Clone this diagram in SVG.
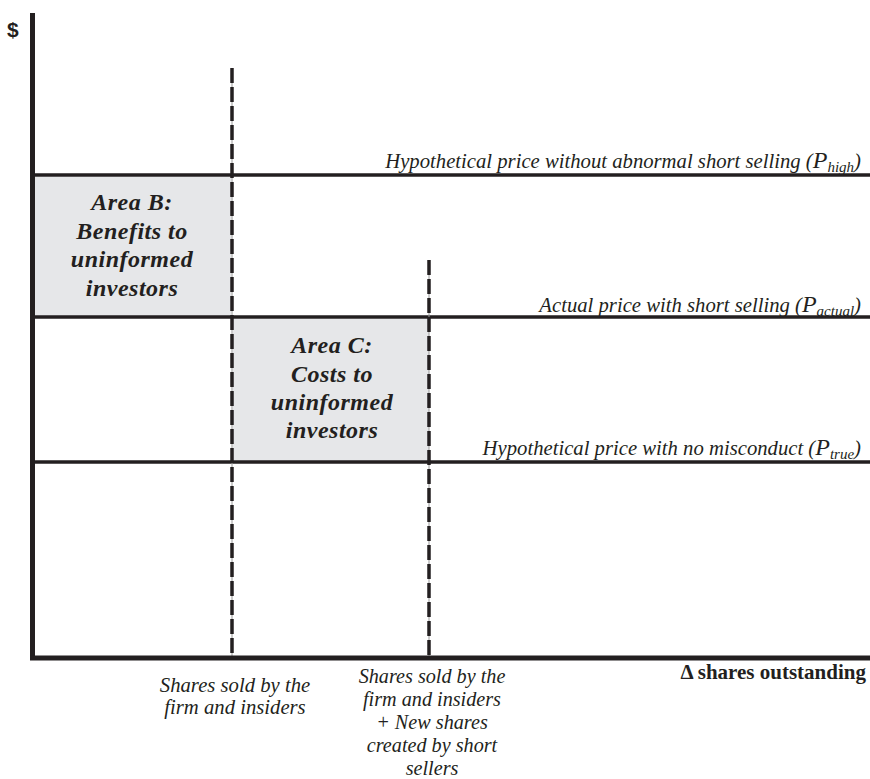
<svg xmlns="http://www.w3.org/2000/svg" width="870" height="779" viewBox="0 0 870 779">
<style>
.ax{stroke:#231f20;stroke-width:5;fill:none}
.pl{stroke:#231f20;stroke-width:3.5;fill:none}
.dash{stroke:#231f20;stroke-width:3.5;stroke-dasharray:15 4;fill:none}
.thin{stroke:#9a9a9a;stroke-width:1;fill:none}
.area{fill:#e6e7e9}
.at{font-family:"Liberation Serif","Times New Roman",serif;font-style:italic;font-weight:bold;font-size:24px;letter-spacing:0.5px;fill:#231f20;text-anchor:middle}
.lb{font-family:"Liberation Serif","Times New Roman",serif;font-style:italic;font-size:20.7px;fill:#231f20}
.bl{font-family:"Liberation Serif","Times New Roman",serif;font-style:italic;font-size:20.7px;fill:#231f20;text-anchor:middle}
.bl2{font-family:"Liberation Serif","Times New Roman",serif;font-style:italic;font-size:20.2px;fill:#231f20;text-anchor:middle}
</style>
<rect width="870" height="779" fill="#fff"/>
<g id="areaB">
<rect class="area" x="35" y="177" width="196" height="139"/>
<text class="at" x="132" y="210">Area B:</text>
<text class="at" x="132" y="239">Benefits to</text>
<text class="at" x="132" y="267">uninformed</text>
<text class="at" x="132" y="296">investors</text>
</g>
<g id="areaC">
<rect class="area" x="233" y="319" width="196" height="142"/>
<text class="at" x="332" y="353">Area C:</text>
<text class="at" x="332" y="382">Costs to</text>
<text class="at" x="332" y="410">uninformed</text>
<text class="at" x="332" y="438">investors</text>
</g>
<g id="connectors">
<line class="pl" x1="33" y1="175" x2="870" y2="175"/>
<line class="pl" x1="33" y1="317" x2="870" y2="317"/>
<line class="pl" x1="33" y1="462" x2="870" y2="462"/>
<line class="thin" x1="232" y1="68" x2="232" y2="658"/>
<line class="dash" x1="232" y1="68" x2="232" y2="658"/>
<line class="thin" x1="429" y1="260" x2="429" y2="658"/>
<line class="dash" x1="429" y1="260" x2="429" y2="658"/>
<line class="ax" x1="32.5" y1="13" x2="32.5" y2="660"/>
<line class="ax" x1="30" y1="658" x2="870" y2="658"/>
</g>
<g id="labels">
<text x="7" y="37" style="font-family:'Liberation Sans',Arial,sans-serif;font-weight:bold;font-size:21px;fill:#231f20">$</text>
<text class="lb" x="861" y="168" text-anchor="end">Hypothetical price without abnormal short selling (<tspan font-size="24">P</tspan><tspan font-size="15" dy="4">high</tspan><tspan dy="-4">)</tspan></text>
<text class="lb" x="861" y="312" text-anchor="end">Actual price with short selling (<tspan font-size="24">P</tspan><tspan font-size="15" dy="4">actual</tspan><tspan dy="-4">)</tspan></text>
<text class="lb" x="861" y="455" text-anchor="end">Hypothetical price with no misconduct (<tspan font-size="24">P</tspan><tspan font-size="15" dy="4">true</tspan><tspan dy="-4">)</tspan></text>
<text x="866" y="679" text-anchor="end" style="font-family:'Liberation Serif','Times New Roman',serif;font-weight:bold;font-size:21px;fill:#231f20">Δ shares outstanding</text>
<text class="bl" x="235" y="692">Shares sold by the</text>
<text class="bl" x="235" y="714">firm and insiders</text>
<text class="bl2" x="432" y="683">Shares sold by the</text>
<text class="bl2" x="432" y="706">firm and insiders</text>
<text class="bl2" x="432" y="729">+ New shares</text>
<text class="bl2" x="432" y="752">created by short</text>
<text class="bl2" x="432" y="775">sellers</text>
</g>
</svg>
